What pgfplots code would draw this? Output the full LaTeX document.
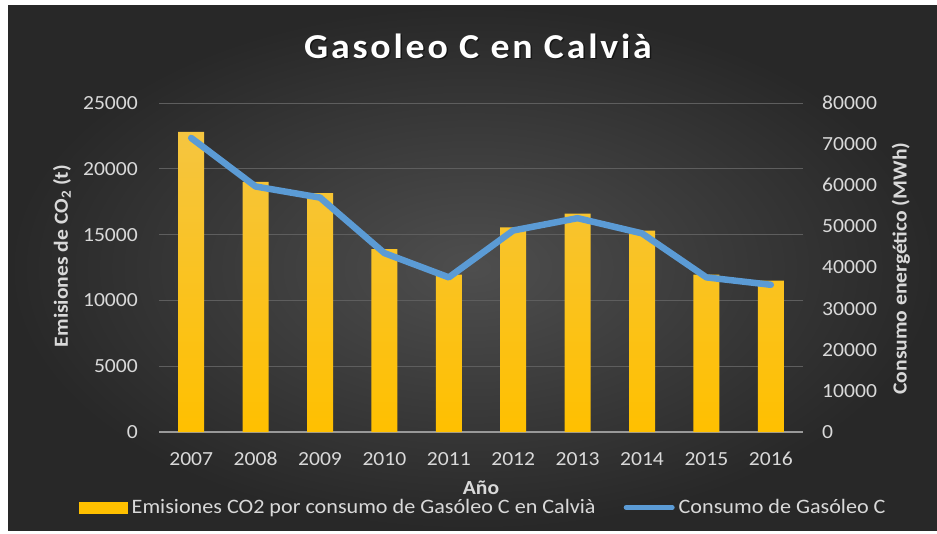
\documentclass[border=0pt]{standalone}
\usepackage{fontspec}
\setmainfont{Carlito}[FakeStretch=1.08]
\newfontfamily\titlefont{Carlito}[FakeStretch=1.08, LetterSpace=8]
\usepackage{pgfplots}
\pgfplotsset{compat=1.18}

\definecolor{bgin}{HTML}{4E4E4E}
\definecolor{bgout}{HTML}{282828}
\definecolor{txt}{HTML}{D9D9D9}
\definecolor{gridc}{HTML}{5E5E5E}
\definecolor{bartop}{HTML}{F5C540}
\definecolor{barbot}{HTML}{FFC000}
\definecolor{linec}{HTML}{5B9BD5}

\pgfplotsset{
  chartbox/.style={
    at={(159pt,101pt)}, anchor=south west,
    scale only axis, width=644pt, height=329pt,
    xmin=-0.5, xmax=9.5, ymin=0,
    major tick length=0pt,
    scaled y ticks=false,
    y axis line style={draw=none},
    tick label style={text=txt, font=\fontsize{20}{24}\selectfont},
    label style={text=txt, font=\bfseries\fontsize{20}{24}\selectfont},
    /pgf/number format/assume math mode=true,
    /pgf/number format/1000 sep={},
  },
}

\begin{document}
\begin{tikzpicture}[x=1pt,y=1pt]
\fill[white] (0,0) rectangle (937,533);
\shade[inner color=bgin, outer color=bgout] (8,3) rectangle (937,527);
\useasboundingbox (0,0) rectangle (937,533);
\node[black, opacity=0.5, font=\titlefont\bfseries\fontsize{35}{42}\selectfont] at (479.5,485.5) {Gasoleo C en Calvià};
\node[text=white, font=\titlefont\bfseries\fontsize{35}{42}\selectfont] at (478,487) {Gasoleo C en Calvià};

% left axis: emissions (bars)
\begin{axis}[
  chartbox,
  ymax=25000,
  axis x line*=bottom, axis y line*=left,
  x axis line style={draw=gray!80, line width=1.3pt},
  xtick={0,1,2,3,4,5,6,7,8,9},
  xticklabels={2007,2008,2009,2010,2011,2012,2013,2014,2015,2016},
  ytick={0,5000,10000,15000,20000,25000},
  ymajorgrids, grid style={gridc, line width=0.9pt},
  yticklabel style={anchor=east, inner sep=0pt, xshift=-21pt},
  xticklabel style={anchor=north, inner sep=0pt, yshift=-20pt},
  xlabel={Año},
  xlabel style={at={(axis description cs:0.5,-0.17)}, anchor=center, inner sep=0pt},
  ylabel={Emisiones de CO\textsubscript{2} (t)},
  ylabel style={at={(axis description cs:-0.1506,0.535)}, anchor=center},
]
\addplot[ybar, bar width=26pt, draw=none, top color=bartop, bottom color=barbot] coordinates {
  (0,22800) (1,19000) (2,18150) (3,13900) (4,11950)
  (5,15550) (6,16600) (7,15300) (8,11950) (9,11500)
};
\end{axis}

% right axis: energy consumption (line)
\begin{axis}[
  chartbox,
  ymax=80000,
  axis x line=none, axis y line*=right,
  ytick={0,10000,20000,30000,40000,50000,60000,70000,80000},
  yticklabel style={anchor=west, inner sep=0pt, xshift=19pt},
  ylabel={Consumo energético (MWh)},
  ylabel style={at={(axis description cs:1.152,0.497)}, anchor=center},
  legend columns=2,
  legend style={at={(axis description cs:0.5054,-0.2295)}, anchor=center,
    draw=none, fill=none, text=txt, font=\fontsize{20.5}{22}\selectfont,
    nodes={inner ysep=0pt, inner xsep=4pt},
    /tikz/every even column/.append style={column sep=24pt}},
]
\addlegendimage{legend image code/.code={\fill[barbot] (0pt,-5.5pt) rectangle (48pt,5.5pt);}}
\addlegendentry{Emisiones CO2 por consumo de Gasóleo C en Calvià}
\addplot[linec, line width=6.5pt, line join=round, line cap=round,
  legend image code/.code={\draw[linec, line width=5pt, line cap=round] (2pt,0pt) -- (48pt,0pt);}]
  coordinates {
  (0,71500) (1,59700) (2,57000) (3,43500) (4,37600)
  (5,49000) (6,52000) (7,48300) (8,37600) (9,35800)
};
\addlegendentry{Consumo de Gasóleo C}
\end{axis}
\end{tikzpicture}
\end{document}
